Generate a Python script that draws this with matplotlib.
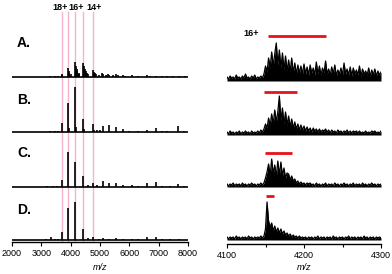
import matplotlib
matplotlib.use("Agg")
import matplotlib.pyplot as plt

plt.rcParams["font.family"] = ["Liberation Sans", "DejaVu Sans"]

W, H = 392, 274

# full range spectra: (m/z, height) peak lists, heights in px above each trace baseline
labels = ["A.", "B.", "C.", "D."]
left_offsets = [165, 110, 55, 2]
peaks_a = [(3300, 1), (3450, 1.5), (3560, 1), (3700, 3), (3720, 2), (3909, 9), (3930, 6),
           (3960, 4), (4000, 3), (4150, 15), (4170, 11), (4200, 8), (4230, 6), (4270, 4),
           (4300, 3), (4428, 14), (4450, 11), (4480, 8), (4510, 6), (4550, 4), (4600, 3),
           (4750, 7), (4780, 5), (4820, 4), (4870, 3), (4950, 2), (5057, 4), (5090, 3),
           (5200, 2), (5284, 3), (5320, 2), (5450, 2), (5545, 3), (5600, 2), (5796, 2.5),
           (5850, 1.5), (6080, 2), (6300, 1.5), (6592, 2), (6700, 1.5), (6900, 1.5),
           (7100, 1.5), (7300, 1), (7500, 1), (7700, 1.5), (7900, 1)]
peaks_b = [(3100, 0.5), (3300, 1), (3450, 1), (3560, 1.5), (3700, 9), (3909, 29), (3930, 4),
           (4150, 45), (4175, 5), (4428, 13), (4455, 3), (4750, 8), (4780, 2), (4900, 2),
           (5000, 2), (5114, 6), (5318, 7), (5545, 5), (5796, 3), (6000, 1.5), (6300, 1.5),
           (6592, 2), (6898, 4), (7100, 1.5), (7300, 1.5), (7648, 6), (7850, 1.5)]
peaks_c = [(3200, 1), (3400, 1), (3550, 1.5), (3700, 7), (3909, 35), (4150, 25), (4428, 11),
           (4600, 2), (4750, 4), (4900, 2), (5114, 6), (5318, 4.5), (5545, 4), (5796, 2),
           (6080, 2), (6300, 1.5), (6590, 4), (6898, 5), (7100, 1.5), (7400, 1.5),
           (7648, 3), (7850, 1.5)]
peaks_d = [(3150, 1), (3330, 3), (3450, 1.5), (3560, 1.5), (3700, 8), (3909, 32), (4150, 38),
           (4428, 11), (4600, 2), (4750, 3), (4950, 1.5), (5114, 2), (5318, 1.5), (5545, 2),
           (5800, 1.5), (6080, 1.5), (6300, 1.5), (6590, 3), (6898, 3), (7100, 1.5),
           (7400, 1.5), (7700, 1.5)]
left_peaks = [peaks_a, peaks_b, peaks_c, peaks_d]

charge_mz = [3700, 3909, 4150, 4428, 4750]
charge_labels = [("18+", 3650), ("16+", 4180), ("14+", 4790)]

# zoomed 16+ region, m/z 4100-4300 step 2
zoom_mz = list(range(4100, 4302, 2))
zoom_a = [3, 1, 4, 2, 3, 1, 5, 2, 3, 1, 4, 2, 6, 2, 3, 1, 4, 2, 5, 1, 3, 2, 4, 2,
          6, 14, 8, 22, 12, 28, 14, 26, 37, 15, 30, 12, 27, 10, 24, 9, 20, 8, 22, 7, 17, 6, 15,
          7, 14, 6, 16,
          6, 13, 5, 15, 7, 12, 5, 18, 6, 14, 5, 12, 7, 19, 6, 11, 5, 13, 6, 15, 4, 10, 6, 12,
          5, 17, 6, 11, 5, 13, 4, 12, 6, 10, 5, 14, 4, 11, 6, 9, 5, 12, 4, 10, 5, 11, 4, 9, 5, 8]
zoom_b = [2, 0, 3, 1, 2, 0, 2, 1, 3, 0, 2, 1, 3, 1, 2, 0, 3, 1, 2, 1, 3, 1, 4, 2,
          5, 10, 6, 16, 8, 20, 10, 24, 12, 22, 38, 14, 26, 10, 22, 9, 18, 7, 15, 6, 12, 5, 10,
          4, 9, 4, 8,
          3, 7, 3, 6, 2, 6, 3, 5, 2, 5, 2, 4, 3, 5, 2, 4, 1, 4, 2, 3, 1, 4, 2, 3, 1, 3, 2, 4,
          1, 3, 1, 3, 2, 3, 1, 3, 1, 2, 1, 3, 1, 2, 1, 3, 2, 3, 1, 2, 1, 3]
zoom_c = [2, 0, 2, 1, 3, 0, 2, 1, 2, 0, 3, 1, 2, 0, 2, 1, 3, 1, 2, 0, 2, 1, 3, 1,
          3, 8, 14, 22, 10, 27, 12, 21, 9, 25, 11, 24, 10, 18, 8, 13, 12, 6, 10, 5, 7, 3, 5,
          2, 4, 2, 3,
          1, 3, 2, 3, 1, 2, 0, 3, 1, 2, 0, 2, 1, 3, 0, 2, 1, 2, 0, 3, 1, 2, 0, 2, 1, 3, 1, 2,
          0, 2, 1, 3, 0, 2, 1, 2, 0, 3, 1, 2, 0, 2, 1, 3, 1, 2, 0, 2, 1, 2]
zoom_d = [2, 0, 2, 1, 2, 0, 3, 1, 2, 0, 2, 1, 2, 0, 3, 1, 2, 0, 2, 1, 2, 1, 3, 1,
          3, 10, 37, 18, 12, 16, 8, 13, 7, 11, 6, 10, 5, 8, 4, 6, 3, 5, 2, 4, 2, 3, 1,
          3, 1, 2, 1,
          2, 0, 2, 1, 2, 0, 2, 1, 3, 0, 2, 1, 2, 0, 2, 1, 2, 0, 3, 1, 2, 0, 2, 1, 2, 0, 2, 1,
          3, 0, 2, 1, 2, 0, 2, 1, 2, 0, 3, 1, 2, 0, 2, 1, 2, 0, 2, 1, 2, 1]
zoom_traces = [zoom_a, zoom_b, zoom_c, zoom_d]
right_offsets = [164, 110, 58, 5]
red_ranges = [(4153, 4229), (4148, 4191), (4149, 4184), (4151, 4161)]
red_heights = [208, 152, 91, 48]


def px_axes(x0, x1, y_top, y_bot):
    return [x0 / W, 1 - y_bot / H, (x1 - x0) / W, (y_bot - y_top) / H]


fig = plt.figure(figsize=(W / 100, H / 100), dpi=100)

# left panel
ax = fig.add_axes(px_axes(12, 188, 8, 242))
ax.set_xlim(2000, 8000)
ax.set_ylim(0, 234)
for mz in charge_mz:
    ax.axvline(mz, ymin=0, ymax=230 / 234, color="#f6b3d0", lw=1.0, zorder=1)
for peaks, off in zip(left_peaks, left_offsets):
    ax.axhline(off, color="black", lw=1.2, zorder=2)
    xs = [p[0] for p in peaks]
    hs = [off + p[1] for p in peaks]
    ax.vlines(xs, off, hs, color="black", lw=1.2, zorder=3)
for txt, mz in charge_labels:
    ax.text(mz, 234, txt, ha="center", va="center", fontsize=6.5, fontweight="bold")
ax.set_xticks(range(2000, 8001, 1000))
ax.set_xlabel("m/z", fontsize=6.5, style="italic", labelpad=4)

# right panel
ax2 = fig.add_axes(px_axes(227, 381, 26, 244))
ax2.set_xlim(4100, 4300)
ax2.set_ylim(0, 218)
for tr, off in zip(zoom_traces, right_offsets):
    ys = [off + v for v in tr]
    ax2.fill_between(zoom_mz, off - 1, ys, color="black", lw=0)
    ax2.plot(zoom_mz, ys, color="black", lw=0.9)
for (a, b), y in zip(red_ranges, red_heights):
    ax2.plot([a, b], [y, y], color="#e8101c", lw=2.0, solid_capstyle="butt")
ax2.text(4132, 210, "16+", ha="center", va="center", fontsize=6.5, fontweight="bold")
ax2.set_xticks([4100, 4200, 4300])
ax2.set_xticks([4150, 4250], minor=True)
ax2.set_xlabel("m/z", fontsize=6.5, style="italic", labelpad=2)

for a in (ax, ax2):
    for s in ("left", "right", "top"):
        a.spines[s].set_visible(False)
    a.spines["bottom"].set_linewidth(1.0)
    a.set_yticks([])
    a.tick_params(axis="x", labelsize=6.5, length=3, width=0.8, pad=2)
    a.tick_params(axis="x", which="minor", length=2, width=0.8)

for lab, y in zip(labels, [43, 100, 153, 210]):
    fig.text(24 / W, 1 - y / H, lab, ha="center", va="center", fontsize=10, fontweight="bold")

fig.savefig("out.png", dpi=100)
